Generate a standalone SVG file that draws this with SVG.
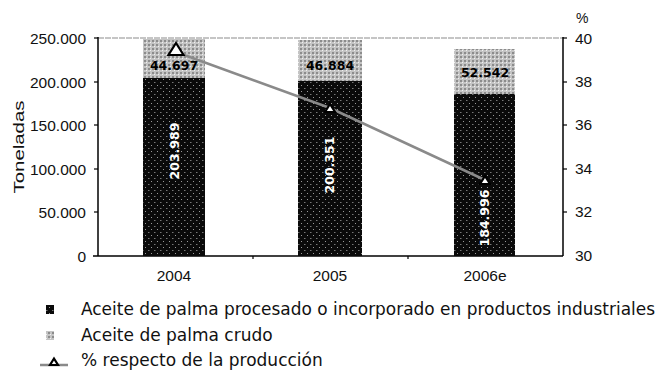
<svg xmlns="http://www.w3.org/2000/svg" width="659" height="370" viewBox="0 0 659 370">
<style>
.ax{font-family:"Liberation Sans",Arial,sans-serif;font-size:15.5px;fill:#111}
.lg{font-family:"DejaVu Sans",Verdana,sans-serif;font-size:17px;fill:#111}
.vb{font-family:"DejaVu Sans",Verdana,sans-serif;font-size:12.5px;font-weight:bold;fill:#fff}
.hb{font-family:"DejaVu Sans",Verdana,sans-serif;font-size:12.5px;font-weight:bold;fill:#000}
.axis{stroke:#000;stroke-width:1.5;fill:none}
.dark{fill:url(#pd)}
.light{fill:url(#pl)}
.ser{stroke:#8a8a8a;stroke-width:2.5;fill:none}
.mk{fill:#fff;stroke:#000;stroke-width:2.2;stroke-linejoin:miter}
</style>
<defs>
<pattern id="pd" width="6" height="6" patternUnits="userSpaceOnUse">
<rect width="6" height="6" fill="#0a0a0a"/>
<rect x="1" y="1" width="1" height="1" fill="#9a9a9a"/>
<rect x="4" y="4" width="1.5" height="1" fill="#777"/>
</pattern>
<pattern id="pl" width="4" height="4" patternUnits="userSpaceOnUse">
<rect width="4" height="4" fill="#c4c4c4"/>
<rect x="0" y="0" width="2" height="2" fill="#8c8c8c"/>
<rect x="2" y="2" width="1" height="1" fill="#f0f0f0"/>
</pattern>
</defs>

<g id="axes">
<line x1="98" y1="38" x2="563" y2="38" stroke="#8c8c8c" stroke-width="1.2" stroke-dasharray="6,1"/>
<line class="axis" x1="98" y1="37" x2="98" y2="256"/>
<line class="axis" x1="563" y1="37" x2="563" y2="256"/>
<line class="axis" x1="93" y1="256" x2="563" y2="256"/>
<g stroke="#000" stroke-width="1.2">
<line x1="94" y1="38" x2="98" y2="38"/>
<line x1="94" y1="82" x2="98" y2="82"/>
<line x1="94" y1="125" x2="98" y2="125"/>
<line x1="94" y1="169" x2="98" y2="169"/>
<line x1="94" y1="212" x2="98" y2="212"/>
<line x1="563" y1="38" x2="567" y2="38"/>
<line x1="563" y1="82" x2="567" y2="82"/>
<line x1="563" y1="125" x2="567" y2="125"/>
<line x1="563" y1="169" x2="567" y2="169"/>
<line x1="563" y1="212" x2="567" y2="212"/>
<line x1="253" y1="256" x2="253" y2="259"/>
<line x1="408" y1="256" x2="408" y2="259"/>
</g>
<g class="ax" text-anchor="end">
<text x="86" y="43.5">250.000</text>
<text x="86" y="87.5">200.000</text>
<text x="86" y="130.5">150.000</text>
<text x="86" y="174.5">100.000</text>
<text x="86" y="217.5">50.000</text>
<text x="86" y="261.5">0</text>
</g>
<g class="ax">
<text x="575" y="43.5">40</text>
<text x="575" y="86.5">38</text>
<text x="575" y="129.5">36</text>
<text x="575" y="173.5">34</text>
<text x="575" y="216.5">32</text>
<text x="575" y="260.5">30</text>
<text x="576" y="23" font-size="14">%</text>
</g>
<text class="ax" transform="translate(24,147) rotate(-90)" text-anchor="middle" font-size="17.5" textLength="93" lengthAdjust="spacingAndGlyphs">Toneladas</text>
<g class="ax" text-anchor="middle">
<text x="174" y="280.5">2004</text>
<text x="330" y="280.5">2005</text>
<text x="485" y="280.5">2006e</text>
</g>
</g>

<g id="bar-2004">
<rect class="light" x="143" y="39" width="62" height="39"/>
<rect class="dark" x="143" y="78" width="62" height="178"/>
</g>
<g id="bar-2005">
<rect class="light" x="298" y="40" width="64" height="41"/>
<rect class="dark" x="298" y="81" width="64" height="175"/>
</g>
<g id="bar-2006e">
<rect class="light" x="454" y="49" width="61" height="45"/>
<rect class="dark" x="454" y="94" width="61" height="162"/>
</g>

<g id="connectors">
<polyline class="ser" points="176,52 330,108 485,180"/>
</g>

<g id="markers">
<polygon class="mk" points="176,43 183.5,55 168.5,55"/>
<polygon class="mk" points="330,104 335,112 325,112"/>
<polygon class="mk" points="485,176 490,184 480,184"/>
</g>

<g id="value-labels">
<text class="hb" x="174" y="69.5" text-anchor="middle">44.697</text>
<text class="hb" x="330" y="69.5" text-anchor="middle">46.884</text>
<text class="hb" x="485" y="76.5" text-anchor="middle">52.542</text>
<text class="vb" transform="translate(178.5,151) rotate(-90)" text-anchor="middle">203.989</text>
<text class="vb" transform="translate(333.5,165) rotate(-90)" text-anchor="middle">200.351</text>
<text class="vb" transform="translate(489,218) rotate(-90)" text-anchor="middle">184.996</text>
</g>

<g id="legend">
<g id="legend-procesado">
<rect class="dark" x="46" y="305" width="8" height="9"/>
<text class="lg" x="81" y="315" textLength="574" lengthAdjust="spacingAndGlyphs">Aceite de palma procesado o incorporado en productos industriales</text>
</g>
<g id="legend-crudo">
<rect class="light" x="46" y="331" width="8" height="9"/>
<text class="lg" x="81" y="341">Aceite de palma crudo</text>
</g>
<g id="legend-porcentaje">
<line class="ser" x1="40" y1="365" x2="68" y2="365" stroke-width="1.5"/>
<polygon class="mk" points="54,358.5 58,365 50,365" stroke-width="1.5"/>
<text class="lg" x="81" y="366">% respecto de la producción</text>
</g>
</g>
</svg>
